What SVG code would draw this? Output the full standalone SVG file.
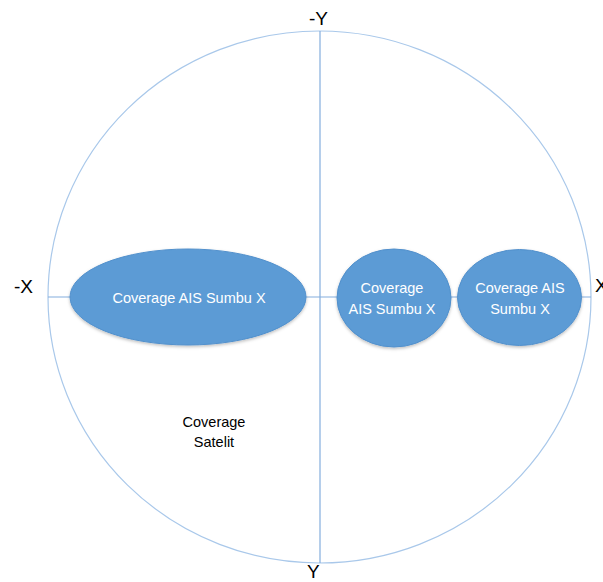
<svg xmlns="http://www.w3.org/2000/svg" width="603" height="582" viewBox="0 0 603 582">
  <defs>
    <filter id="shadow" x="-10%" y="-10%" width="120%" height="130%">
      <feDropShadow dx="0" dy="1.5" stdDeviation="1.5" flood-color="#000" flood-opacity="0.25"/>
    </filter>
  </defs>
  <style>
    .axis { stroke: #84AEDD; stroke-width: 1.2; fill: none; }
    .outer { stroke: #A9C8EA; stroke-width: 1.2; fill: none; }
    .node { fill: #5B9BD5; stroke: #5290CC; stroke-width: 1; filter: url(#shadow); }
    .ntext { font-family: "Liberation Sans", Arial, sans-serif; font-size: 14.5px; fill: #FFFFFF; text-anchor: middle; }
    .btext { font-family: "Liberation Sans", Arial, sans-serif; font-size: 14.5px; fill: #000000; text-anchor: middle; }
    .albl { font-family: "Liberation Sans", Arial, sans-serif; font-size: 19px; fill: #000000; }
  </style>
  <rect width="603" height="582" fill="#FFFFFF"/>

  <g id="satellite-coverage">
    <ellipse class="outer" cx="319.5" cy="297" rx="271.5" ry="266"/>
    <text class="btext" x="214" y="427">Coverage</text>
    <text class="btext" x="214" y="447">Satelit</text>
  </g>

  <g id="connectors">
    <line class="axis" x1="48" y1="297" x2="591" y2="297"/>
    <line class="axis" x1="320" y1="31" x2="320" y2="563"/>
  </g>

  <g id="axis-labels">
    <text class="albl" x="14" y="293">-X</text>
    <text class="albl" x="595" y="292">X</text>
    <text class="albl" x="309" y="25">-Y</text>
    <text class="albl" x="307" y="578">Y</text>
  </g>

  <g id="node-left">
    <ellipse class="node" cx="188" cy="297" rx="118" ry="48"/>
    <text class="ntext" x="189" y="303">Coverage AIS Sumbu X</text>
  </g>

  <g id="node-middle">
    <ellipse class="node" cx="394" cy="298" rx="57" ry="49"/>
    <text class="ntext" x="392" y="293">Coverage</text>
    <text class="ntext" x="392" y="314">AIS Sumbu X</text>
  </g>

  <g id="node-right">
    <ellipse class="node" cx="519.5" cy="297.5" rx="62" ry="48"/>
    <text class="ntext" x="520" y="293">Coverage AIS</text>
    <text class="ntext" x="520" y="314">Sumbu X</text>
  </g>
</svg>
